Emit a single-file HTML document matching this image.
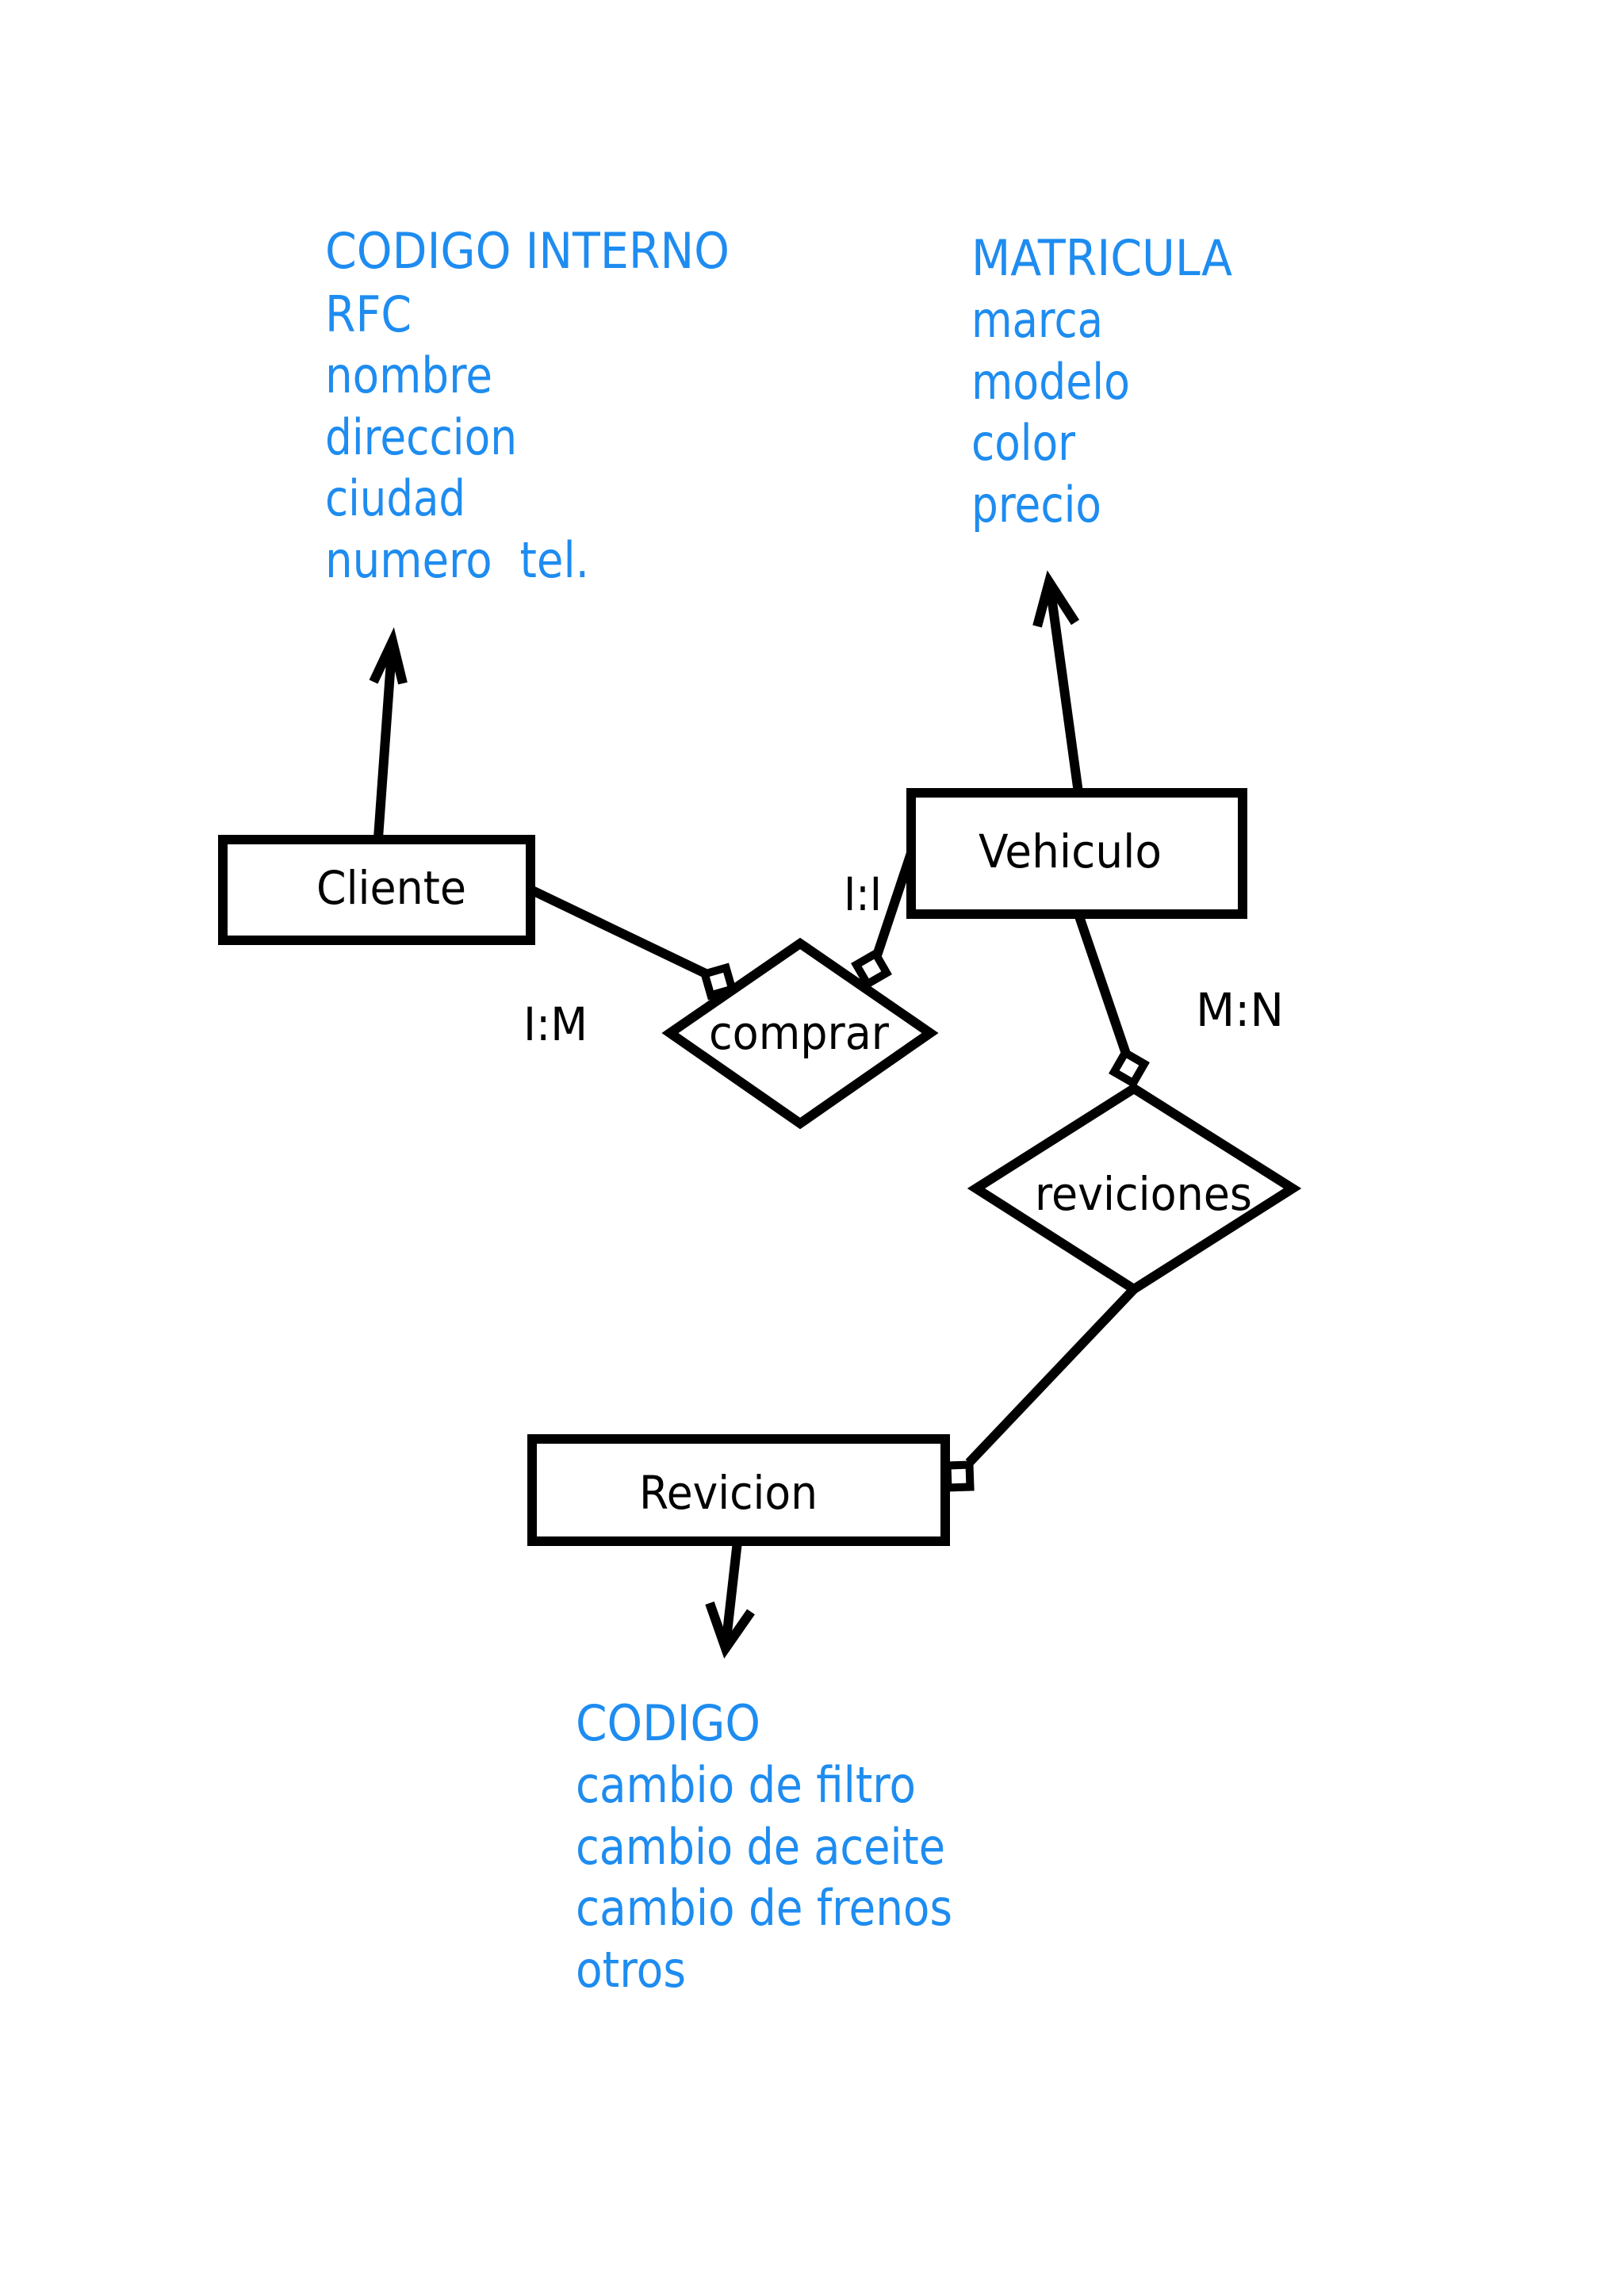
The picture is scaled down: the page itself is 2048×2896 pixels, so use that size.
<!DOCTYPE html>
<html><head><meta charset="utf-8"><style>html,body{margin:0;padding:0;background:#fff}svg{display:block}</style></head>
<body>
<svg xmlns="http://www.w3.org/2000/svg" width="2048" height="2896" viewBox="0 0 2048 2896">
<rect width="2048" height="2896" fill="#fff"/>
<g font-family="'DejaVu Sans','Liberation Sans',sans-serif" font-size="62" fill="#1e8cf0">
<text x="410" y="338" textLength="510" lengthAdjust="spacingAndGlyphs">CODIGO INTERNO</text>
<text x="410" y="418" textLength="109" lengthAdjust="spacingAndGlyphs">RFC</text>
<text x="410" y="495" textLength="211" lengthAdjust="spacingAndGlyphs">nombre</text>
<text x="410" y="573" textLength="242" lengthAdjust="spacingAndGlyphs">direccion</text>
<text x="410" y="650" textLength="177" lengthAdjust="spacingAndGlyphs">ciudad</text>
<text x="410" y="728" textLength="333" lengthAdjust="spacingAndGlyphs" xml:space="preserve">numero  tel.</text>
<text x="1225" y="347" textLength="329" lengthAdjust="spacingAndGlyphs">MATRICULA</text>
<text x="1225" y="425" textLength="166" lengthAdjust="spacingAndGlyphs">marca</text>
<text x="1225" y="503" textLength="200" lengthAdjust="spacingAndGlyphs">modelo</text>
<text x="1225" y="580" textLength="131" lengthAdjust="spacingAndGlyphs">color</text>
<text x="1225" y="658" textLength="164" lengthAdjust="spacingAndGlyphs">precio</text>
<text x="726" y="2195" textLength="233" lengthAdjust="spacingAndGlyphs">CODIGO</text>
<text x="726" y="2273" textLength="429" lengthAdjust="spacingAndGlyphs">cambio de filtro</text>
<text x="726" y="2351" textLength="466" lengthAdjust="spacingAndGlyphs">cambio de aceite</text>
<text x="726" y="2428" textLength="475" lengthAdjust="spacingAndGlyphs">cambio de frenos</text>
<text x="726" y="2506" textLength="139" lengthAdjust="spacingAndGlyphs">otros</text>
</g>
<g fill="none" stroke="#000" stroke-width="12">
<rect x="281" y="1059" width="388" height="127"/>
<rect x="1149" y="1000" width="418" height="153"/>
<rect x="671" y="1815" width="521" height="129"/>
<polygon points="845,1303 1009,1190 1173,1303 1009,1417"/>
<polygon points="1231,1499 1430,1373 1630,1499 1430,1626"/>
<line x1="477" y1="1057" x2="494" y2="820"/>
<polyline points="471,860 495,809 508,862"/>
<line x1="1360" y1="1000" x2="1325" y2="745"/>
<polyline points="1308,790 1323,734 1356,785"/>
<line x1="930" y1="1944" x2="916" y2="2068"/>
<polyline points="895,2022 915,2079 947,2033"/>
<line x1="669" y1="1122" x2="890" y2="1228"/>
<line x1="1149" y1="1076" x2="1105" y2="1208"/>
<line x1="1360" y1="1153" x2="1422" y2="1335"/>
<line x1="1430" y1="1626" x2="1222" y2="1845"/>
</g>
<g fill="#fff" stroke="#000" stroke-width="10">
<rect x="-14" y="-14" width="28" height="28" transform="translate(906,1238) rotate(-16)"/>
<rect x="-14" y="-14" width="28" height="28" transform="translate(1099,1222) rotate(-30)"/>
<rect x="-14" y="-14" width="28" height="28" transform="translate(1424,1347) rotate(30)"/>
<rect x="-14" y="-14" width="28" height="28" transform="translate(1209,1862) rotate(-2)"/>
</g>
<g font-family="'DejaVu Sans','Liberation Sans',sans-serif" font-size="58" fill="#000">
<text x="399" y="1140" textLength="189" lengthAdjust="spacingAndGlyphs">Cliente</text>
<text x="1234" y="1094" textLength="231" lengthAdjust="spacingAndGlyphs">Vehiculo</text>
<text x="806" y="1903" textLength="225" lengthAdjust="spacingAndGlyphs">Revicion</text>
<text x="894" y="1323" textLength="227" lengthAdjust="spacingAndGlyphs">comprar</text>
<text x="1305" y="1526" textLength="274" lengthAdjust="spacingAndGlyphs">reviciones</text>
<text x="660" y="1312" textLength="81" lengthAdjust="spacingAndGlyphs">I:M</text>
<text x="1064" y="1148" textLength="48" lengthAdjust="spacingAndGlyphs">I:I</text>
<text x="1508" y="1294" textLength="111" lengthAdjust="spacingAndGlyphs">M:N</text>
</g>
</svg>
</body></html>
